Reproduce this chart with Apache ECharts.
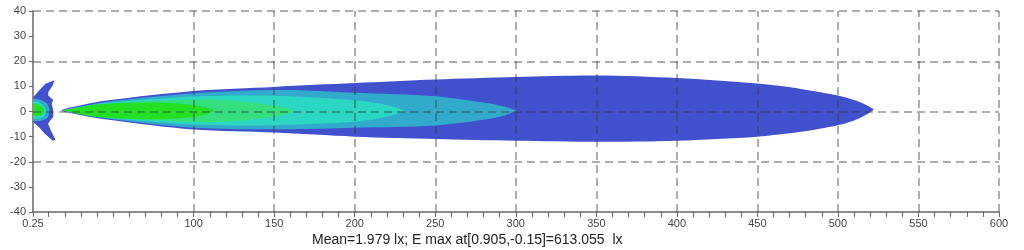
<!DOCTYPE html>
<html><head><meta charset="utf-8">
<script src="https://cdn.jsdelivr.net/npm/echarts@6/dist/echarts.min.js"></script>
<style>html,body{margin:0;padding:0;background:#fff}#c{width:1024px;height:250px}</style>
</head><body><div id="c"></div>
<script>
// ---- data (metres / degrees) ----
const beam1X   = [18, 24, 46, 100, 150, 200, 250, 300, 350, 400, 450, 477, 500, 510, 516, 522];
const beam1Top = [0.6, 1.7, 4.4, 8.2, 9.8, 11.3, 12.7, 13.7, 14.3, 13.3, 11.1, 9.0, 6.4, 4.6, 3.1, 1.0];
const beam1Bot = [0.3, -0.7, -3.2, -7.2, -8.4, -10.0, -10.9, -11.6, -12.0, -11.6, -10.0, -8.1, -5.5, -3.6, -1.8, 0.6];

const beam2X   = [19, 30, 46, 100, 155, 200, 250, 280, 293, 300];
const beam2Top = [0.5, 2.0, 3.9, 7.3, 8.6, 7.5, 6.1, 3.6, 2.0, 0.5];
const beam2Bot = [0.3, -1.0, -2.8, -6.5, -7.1, -6.5, -5.6, -3.3, -1.6, 0.3];

const beam3X   = [19, 46, 100, 130, 155, 200, 220, 231];
const beam3Top = [0.5, 3.4, 6.0, 6.4, 6.2, 4.5, 2.6, 0.5];
const beam3Bot = [0.3, -2.5, -5.2, -5.6, -5.4, -4.1, -2.1, 0.3];

const beam4X   = [19, 46, 100, 123, 145, 158, 162];
const beam4Top = [0.5, 3.0, 4.8, 4.4, 2.8, 1.5, 0.5];
const beam4Bot = [0.3, -2.2, -4.2, -4.0, -2.5, -1.0, 0.3];

const beam5X   = [19, 40, 70, 90, 105, 113];
const beam5Top = [0.5, 2.8, 3.6, 3.2, 2.0, 0.5];
const beam5Bot = [0.3, -2.2, -3.1, -2.8, -1.6, 0.3];

const lamp1 = [[0.25,5.6],[4,8.4],[8,11.0],[13.6,12.4],[12.4,10.2],[9.8,7.8],[9.7,6.4],[12.8,4.6],[11.8,3.0],[12.6,1.2],[12.8,-0.5],[12.8,-2.3],[10.9,-3.6],[9.6,-5.0],[11.5,-7.8],[14.2,-11.2],[12.6,-11.6],[7.4,-8.8],[4.2,-6.4],[0.25,-4.2]];
const lamp2 = [[0.25,5.0],[5,4.6],[9,3.2],[10.5,0.5],[9.2,-2.6],[5,-3.7],[0.25,-3.6]];
const lamp3 = [[0.25,3.8],[4,3.6],[7.5,2.0],[8.2,0],[7,-2.0],[3,-2.9],[0.25,-2.8]];
const lamp4 = [[0.25,3.0],[4,2.8],[6.5,1.5],[7,0],[5.5,-1.5],[0.25,-1.7]];

const xLabelValues = [0.25, 100, 150, 200, 250, 300, 350, 400, 450, 500, 550, 600];
const gridXValues = [100, 150, 200, 250, 300, 350, 400, 450, 500, 550, 600];
const gridYValues = [40, 20, 0, -20];
const titleText = 'Mean=1.979 lx; E max at[0.905,-0.15]=613.055  lx';

// ---- styles ----
const colors = ['#4151CD', '#32AACC', '#2AD7C2', '#34E07E', '#22E022'];

const xTickValues = [0.25];
for (let v = 10; v <= 600; v += 10) xTickValues.push(v);

function beamPoly(xs, top, bot) {
  const pts = xs.map((x, i) => [x, top[i]]);
  for (let i = xs.length - 1; i >= 0; i--) pts.push([xs[i], bot[i]]);
  return pts;
}
function polySeries(pts, color, smooth) {
  return {
    type: 'custom', coordinateSystem: 'cartesian2d', clip: true, silent: true,
    data: [pts[0]],
    encode: { x: 0, y: 1 },
    renderItem: function (params, api) {
      return {
        type: 'polygon',
        shape: { points: pts.map(p => api.coord(p)), smooth: smooth },
        style: { fill: color, stroke: null }
      };
    }
  };
}

const series = [
  polySeries(beamPoly(beam1X, beam1Top, beam1Bot), colors[0], 0.3),
  polySeries(lamp1, colors[0], 0),
  polySeries(beamPoly(beam2X, beam2Top, beam2Bot), colors[1], 0.3),
  polySeries(lamp2, colors[1], 0.2),
  polySeries(beamPoly(beam3X, beam3Top, beam3Bot), colors[2], 0.3),
  polySeries(lamp3, colors[2], 0.2),
  polySeries(beamPoly(beam4X, beam4Top, beam4Bot), colors[3], 0.3),
  polySeries(beamPoly(beam5X, beam5Top, beam5Bot), colors[4], 0.3),
  polySeries(lamp4, colors[4], 0.2),
  {
    type: 'line', data: [], silent: true, z: 10,
    markLine: {
      silent: true, symbol: ['none', 'none'], label: { show: false },
      animation: false,
      lineStyle: { type: [8, 5], color: 'rgba(60,60,60,0.55)', width: 1.5 },
      data: gridXValues.map(v => ({ xAxis: v })).concat(gridYValues.map(v => ({ yAxis: v })))
    }
  }
];

const chart = echarts.init(document.getElementById('c'), null, { renderer: 'canvas' });
chart.setOption({
  animation: false,
  backgroundColor: '#fff',
  grid: { left: 33, right: 25, top: 11, bottom: 38, containLabel: false },
  xAxis: {
    type: 'value', min: 0.25, max: 600,
    axisLine: { show: true, onZero: false, lineStyle: { color: '#666', width: 1.5 } },
    axisTick: { show: true, length: 5, customValues: xTickValues, lineStyle: { color: '#666' } },
    axisLabel: {
      customValues: xLabelValues, margin: 6,
      formatter: v => (v === 0.25 ? '0.25' : String(v)),
      color: '#444', fontSize: 11, fontFamily: 'Liberation Sans Narrow, Liberation Sans, Arial, sans-serif'
    },
    splitLine: { show: false }
  },
  yAxis: {
    type: 'value', min: -40, max: 40, interval: 10,
    axisLine: { show: true, onZero: false, lineStyle: { color: '#666', width: 1.5 } },
    axisTick: { show: true, length: 4, lineStyle: { color: '#666' } },
    axisLabel: { color: '#444', fontSize: 11, margin: 7, fontFamily: 'Liberation Sans, Arial, sans-serif' },
    splitLine: { show: false }
  },
  graphic: [{
    type: 'text', left: 312, top: 233,
    style: { text: titleText, fill: '#222', font: '14px "Liberation Sans", Arial, sans-serif' }
  }],
  series: series
});
</script></body></html>
